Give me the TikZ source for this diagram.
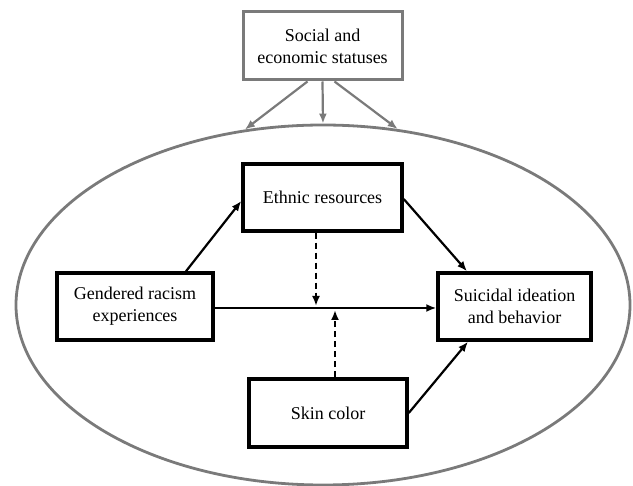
\documentclass[tikz,border=0pt]{standalone}
\usepackage{fontspec}
\setmainfont{Liberation Serif}
\usetikzlibrary{arrows.meta,shapes.geometric}
\definecolor{framegray}{HTML}{7A7A7A}
\begin{document}
\begin{tikzpicture}[x=1pt,y=-1pt,
  box/.style={draw=black,line width=3.5pt,minimum width=#1,minimum height=67pt,inner sep=0pt,align=center,font=\fontsize{18}{21.7}\selectfont},
  graybox/.style={draw=framegray,line width=3pt,minimum width=159pt,minimum height=68pt,inner sep=0pt,align=center,font=\fontsize{18}{21.7}\selectfont},
  arr/.style={line width=2.2pt,-{Latex[length=10pt,width=8pt]}},
  thinarr/.style={line width=1.8pt,-{Latex[length=10pt,width=8pt]}},
  dasharr/.style={line width=2.2pt,dash pattern=on 6pt off 4pt,-{Latex[length=10pt,width=8pt]}},
  grayarr/.style={draw=framegray,line width=2.2pt,-{Latex[length=10pt,width=8pt]},color=framegray}]
\useasboundingbox (0,0) rectangle (633,486);
\node[ellipse,draw=framegray,line width=2.8pt,minimum width=614pt,minimum height=360pt,inner sep=0pt] (ctx) at (323,305) {};
\node[graybox] (ses) at (322.5,46) {Social and\\economic statuses};
\node[box=159pt] (eth) at (322.5,197.5) {Ethnic resources};
\node[box=156pt] (gen) at (135,306.5) {Gendered racism\\experiences};
\node[box=153pt] (sui) at (514.5,306.5) {Suicidal ideation\\and behavior};
\node[box=158pt,minimum height=68pt] (skin) at (328,413) {Skin color};
\coordinate (m1) at (316,306);
\coordinate (m2) at (335,310);
\draw[grayarr] ([xshift=-15pt]ses.south) -- (ctx.114.6);
\draw[grayarr] (ses.south) -- (ctx.north);
\draw[grayarr] ([xshift=12pt]ses.south) -- (ctx.67);
\draw[arr] ([xshift=51pt]gen.north) -- ([yshift=-3.5pt]eth.west);
\draw[arr] ([yshift=-1.5pt]eth.east) -- ([xshift=-47.5pt]sui.north);
\draw[arr] (skin.east) -- ([xshift=-46.5pt]sui.south);
\draw[thinarr] ([yshift=-1.5pt]gen.east) -- ([yshift=-1.5pt]sui.west);
\draw[dasharr] ([xshift=-6.5pt]eth.south) -- (m1);
\draw[dasharr] ([xshift=7pt]skin.north) -- (m2);
\end{tikzpicture}
\end{document}
